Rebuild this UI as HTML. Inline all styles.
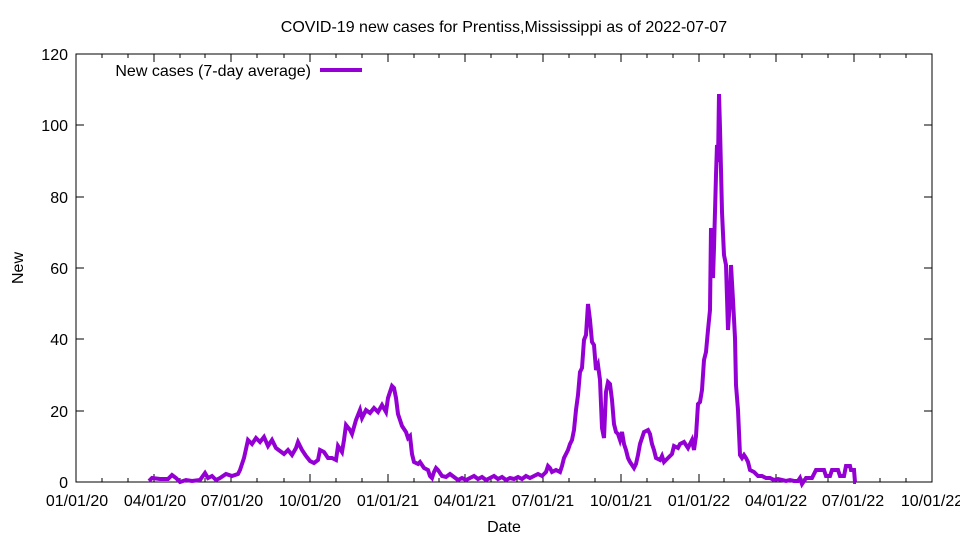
<!DOCTYPE html>
<html><head><meta charset="utf-8"><style>body{margin:0;background:#fff}svg{display:block}</style></head><body>
<svg width="960" height="540" xmlns="http://www.w3.org/2000/svg" font-family="Liberation Sans, Arial, sans-serif" font-size="16">
<rect width="960" height="540" fill="#fff"/>
<text x="504" y="32" text-anchor="middle" font-size="16">COVID-19 new cases for Prentiss,Mississippi as of 2022-07-07</text>
<g stroke="#000" stroke-width="1">
<rect x="76" y="54" width="856" height="428" fill="none"/>
<path d="M76 482h8M76 411h8M76 339h8M76 268h8M76 197h8M76 125h8M76 54h8M932 482h-8M932 411h-8M932 339h-8M932 268h-8M932 197h-8M932 125h-8M932 54h-8"/>
<path d="M76 482v-8M154 482v-8M231 482v-8M310 482v-8M388 482v-8M465 482v-8M543 482v-8M621 482v-8M699 482v-8M776 482v-8M854 482v-8M932 482v-8M76 54v8M154 54v8M231 54v8M310 54v8M388 54v8M465 54v8M543 54v8M621 54v8M699 54v8M776 54v8M854 54v8"/>
<path d="M102 482v-4M128 482v-4M180 482v-4M205 482v-4M257 482v-4M284 482v-4M336 482v-4M362 482v-4M414 482v-4M439 482v-4M491 482v-4M517 482v-4M569 482v-4M595 482v-4M647 482v-4M673 482v-4M724 482v-4M750 482v-4M802 482v-4M828 482v-4M880 482v-4M906 482v-4M102 54v4M128 54v4M180 54v4M205 54v4M257 54v4M284 54v4M336 54v4M362 54v4M414 54v4M439 54v4M491 54v4M517 54v4M569 54v4M595 54v4M647 54v4M673 54v4M724 54v4M750 54v4M802 54v4M828 54v4M880 54v4M906 54v4"/>
</g>
<g text-anchor="end">
<text x="68" y="488">0</text><text x="68" y="417">20</text><text x="68" y="345">40</text><text x="68" y="274">60</text><text x="68" y="203">80</text><text x="68" y="131">100</text><text x="68" y="60">120</text>
</g>
<g text-anchor="middle">
<text x="77" y="506">01/01/20</text><text x="155" y="506">04/01/20</text><text x="232" y="506">07/01/20</text><text x="310" y="506">10/01/20</text><text x="388" y="506">01/01/21</text><text x="465" y="506">04/01/21</text><text x="543" y="506">07/01/21</text><text x="621" y="506">10/01/21</text><text x="699" y="506">01/01/22</text><text x="776" y="506">04/01/22</text><text x="853" y="506">07/01/22</text><text x="932" y="506">10/01/22</text>
<text x="504" y="532">Date</text>
<text transform="translate(23,268) rotate(-90)">New</text>
</g>
<text x="311" y="76" text-anchor="end">New cases (7-day average)</text>
<line x1="320" y1="70" x2="362" y2="70" stroke="#9400d3" stroke-width="4"/>
<polyline fill="none" stroke="#9400d3" stroke-width="4" stroke-linejoin="miter" points="149,481 152,478 160,479 168,479 172,475 176,478 180,482 186,480 192,481 200,480 205,473 208,478 212,476 216,480 220,478 226,474 232,476 238,474 240,470 244,458 248,440 252,444 256,438 260,442 264,437 268,446 272,440 276,448 280,451 284,454 288,450 292,455 296,448 298,442 302,450 306,456 310,461 314,463 318,460 320,450 324,452 328,458 332,458 336,460 338,446 342,452 344,440 346,425 350,430 352,434 356,420 360,410 362,418 366,410 370,413 374,408 378,412 382,405 386,412 388,398 392,386 394,388 396,398 398,414 400,420 402,426 406,432 408,438 410,436 412,454 414,462 418,464 420,462 424,468 428,470 430,476 432,478 434,472 436,468 438,470 442,476 446,477 450,474 454,477 458,480 462,478 466,480 470,478 474,476 478,479 482,477 486,480 490,478 494,476 498,479 502,477 506,480 510,478 514,479 518,477 522,479 526,476 530,478 534,476 538,474 542,476 546,472 548,466 550,468 552,472 556,470 560,472 562,466 564,458 566,454 568,450 570,444 572,440 574,430 576,410 578,395 580,372 582,368 584,340 586,335 588,304 590,320 592,342 594,345 596,370 598,365 600,380 602,428 604,438 606,392 608,382 610,384 612,400 614,424 616,432 618,434 620,440 622,432 624,444 626,450 628,458 630,462 634,468 636,464 638,455 640,444 644,432 648,430 650,434 652,444 654,450 656,458 660,460 662,456 664,462 668,458 672,454 674,446 678,448 680,444 684,442 688,448 692,440 694,450 696,436 697,420 698,404 700,402 702,390 704,360 706,352 708,330 710,310 711,228 713,278 714,248 716,175 717,145 718,162 719,94 720,128 722,212 724,255 726,265 728,330 730,300 731,265 733,300 735,338 736,385 738,410 740,455 742,458 744,455 746,458 748,462 750,470 754,472 758,476 762,476 766,478 770,478 774,480 778,479 782,480 786,481 790,480 794,481 798,481 800,478 802,484 806,478 812,478 816,470 824,470 826,476 830,476 832,470 838,470 840,476 844,476 846,466 850,466 851,470 854,470 855,482 856,482"/>
</svg>
</body></html>
